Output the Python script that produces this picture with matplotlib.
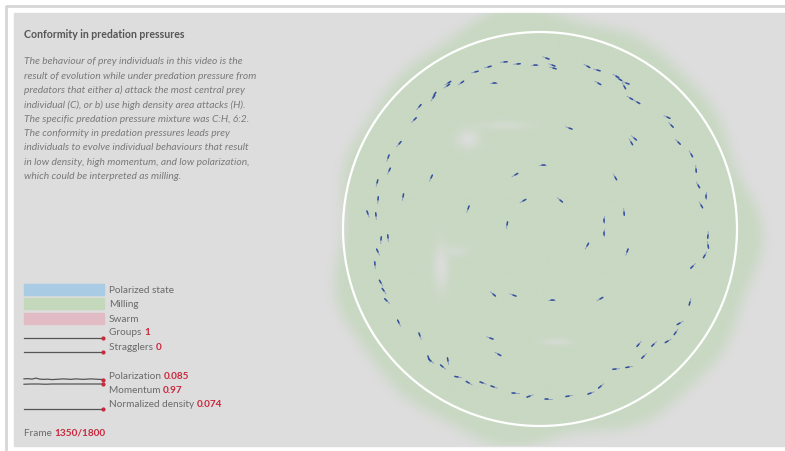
import numpy as np
import matplotlib.pyplot as plt
from matplotlib.patches import Rectangle, Circle

# prey individuals: x, y (pixels in the arena view) and heading in degrees
prey_x = [546, 552, 553, 534, 517, 504, 488, 475, 493, 461, 448, 447, 434, 433, 419, 414,
          399, 388, 389, 377, 378, 368, 376, 381, 388, 378, 375, 381, 384, 387, 399, 420,
          429, 431, 448, 443, 458, 469, 483, 494, 515, 530, 548, 569, 591, 601, 616, 629,
          644, 639, 654, 668, 676, 680, 690, 693, 705, 708, 708, 701, 706, 698, 696, 691,
          678, 671, 667, 630, 637, 626, 624, 616, 619, 598, 597, 587,
          569, 634, 631, 542, 515, 431, 403, 615, 523, 560, 468, 624, 604, 604, 507, 587,
          627, 493, 513, 551, 600, 490, 498]
prey_y = [59, 66, 69, 66, 65, 63, 68, 73, 84, 84, 84, 87, 96, 99, 108, 121,
          145, 159, 172, 184, 201, 215, 217, 241, 239, 253, 266, 284, 292, 302, 324, 337,
          360, 362, 362, 368, 378, 384, 384, 388, 394, 397, 400, 397, 394, 387, 370, 368,
          357, 345, 345, 342, 333, 324, 303, 267, 256, 236, 246, 206, 196, 186, 170, 155,
          143, 126, 118, 99, 103, 84, 87, 77, 80, 84, 71, 67,
          129, 139, 143, 166, 176, 179, 198, 178, 202, 201, 210, 213, 220, 233, 226, 247,
          253, 295, 296, 301, 300, 339, 355]
prey_angle = [-20, -20, -15, 0, 5, 5, 15, 15, 0, 35, 30, 35, 55, 55, 50, 45,
              50, 70, 65, 75, 85, 110, 95, 85, 95, 115, 95, 120, 125, 135, 115, 110,
              110, 140, 100, 140, 170, 150, 160, 160, 180, 200, 180, 190, 200, 220, 185, 190,
              225, 230, 225, 210, 235, 210, 255, 225, 240, 265, 280, 300, 270, 300, 275, 300,
              315, 315, 335, 330, 330, 340, 300, 330, 330, 330, 345, 330,
              340, 320, 300, 0, 30, 65, 80, 300, 30, 320, 70, 275, 270, 270, 80, 60,
              70, 320, 340, 0, 30, 340, 330]

legend_states = ["Polarized state", "Milling", "Swarm"]
state_colors = ["#a9cbe3", "#c4d9bc", "#e2bcc4"]

groups_series = [1] * 12
stragglers_series = [0] * 12
polarization_series = [0.11, 0.12, 0.10, 0.14, 0.10, 0.09, 0.10, 0.08, 0.09, 0.10, 0.11, 0.10,
                       0.09, 0.11, 0.10, 0.09, 0.10, 0.11, 0.10, 0.09, 0.085]
momentum_series = [0.96, 0.97, 0.97, 0.96, 0.97, 0.97, 0.97, 0.97, 0.97, 0.97, 0.97, 0.97]
density_series = [0.074] * 12

description = [
    "The behaviour of prey individuals in this video is the",
    "result of evolution while under predation pressure from",
    "predators that either a) attack the most central prey",
    "individual (C), or b) use high density area attacks (H).",
    "The specific predation pressure mixture was C:H, 6:2.",
    "The conformity in predation pressures leads prey",
    "individuals to evolve individual behaviours that result",
    "in low density, high momentum, and low polarization,",
    "which could be interpreted as milling.",
]

RED = "#c8283c"
GRAY = "#6a6a6a"
FONT = "Lato"
FS = 7.2

fig = plt.figure(figsize=(7.85, 4.52), dpi=100)
ax = fig.add_axes([0, 0, 1, 1])

# outer frame and panel
ax.plot([6, 6, 785], [452, 7, 7], color="#d6d6d6", lw=2, solid_capstyle="butt")
ax.add_patch(Rectangle((14, 14), 771, 433, color="#dddddd", zorder=0))

# soft green "milling" cloud behind the arena
gx = np.linspace(300, 785, 500)
gy = np.linspace(14, 447, 440)
X, Y = np.meshgrid(gx, gy)
th = np.arctan2(Y - 232, X - 544)
R = 216 + 5 * np.sin(3 * th + 0.5) + 4 * np.sin(7 * th + 1.3) + 3 * np.cos(11 * th)
d = np.hypot((X - 544) * 1.03, Y - 232)
alpha = np.clip((R - d) / 24 + 0.5, 0, 1)
alpha = alpha * alpha * (3 - 2 * alpha)
spots = [(468, 140, 12, 10, 0.9), (505, 126, 28, 5, 0.5), (441, 268, 8, 24, 0.9),
         (458, 252, 12, 6, 0.5), (557, 343, 16, 4, 0.6)]
for sx, sy, rx, ry, a in spots:
    alpha = alpha * (1 - a * np.exp(-(((X - sx) / rx) ** 2 + ((Y - sy) / ry) ** 2)))
img = np.zeros(X.shape + (4,))
img[..., 0] = 0xc8 / 255
img[..., 1] = 0xd8 / 255
img[..., 2] = 0xc2 / 255
img[..., 3] = alpha
ax.imshow(img, extent=(300, 785, 447, 14), origin="upper", zorder=1, interpolation="bilinear")
ax.set_xlim(0, 785)
ax.set_ylim(452, 0)
ax.set_aspect("auto")
ax.axis("off")

ax.add_patch(Circle((540, 230), 197, fill=False, ec="white", lw=1.6, zorder=2))

# prey
L = 7.0
for x, y, a in zip(prey_x, prey_y, prey_angle):
    r = np.deg2rad(a)
    dx, dy = np.cos(r) * L / 2, -np.sin(r) * L / 2
    ax.plot([x - dx, x + dx], [y - dy, y + dy], color="#8797c0", lw=0.6, zorder=3,
            solid_capstyle="round")
    ax.plot([x, x + dx * 0.9], [y, y + dy * 0.9], color="#33509c", lw=1.1, zorder=4,
            solid_capstyle="round")

# text block
ax.text(24, 34, "Conformity in predation pressures", fontsize=7.6, fontweight="bold",
        color="#555555", family=FONT, va="center")
for i, line in enumerate(description):
    ax.text(24, 62 + i * 14.3, line, fontsize=7.4, style="italic", color="#7a7a7a",
            family=FONT, va="center")

# legend patches
for i, (lab, c) in enumerate(zip(legend_states, state_colors)):
    yc = 290.5 + i * 14.3
    ax.add_patch(Rectangle((24, yc - 5.5), 80, 11, color=c, zorder=2))
    ax.text(109, yc, lab, fontsize=FS, color=GRAY, family=FONT, va="center")


def spark(series, y0, scale):
    xs = np.linspace(24, 103, len(series))
    ys = [y0 - (v - series[-1]) * scale for v in series]
    ax.plot(xs, ys, color="#555555", lw=0.9, zorder=3)
    ax.plot(xs[-1], ys[-1], "o", color=RED, ms=2, zorder=4)


spark(groups_series, 339, 5)
spark(stragglers_series, 353, 5)
spark(polarization_series, 380.5, 25)
spark(momentum_series, 385, 25)
spark(density_series, 409.5, 25)

rows = [("Groups ", "1", 333), ("Stragglers ", "0", 347.5),
        ("Polarization ", "0.085", 376.5), ("Momentum ", "0.97", 390.5),
        ("Normalized density ", "0.074", 405), ("Frame ", "1350/1800", 433.5)]
for lab, val, yc in rows:
    x0 = 24 if lab == "Frame " else 109
    t = ax.text(x0, yc, lab, fontsize=FS, color=GRAY, family=FONT, va="center")
    ax.annotate(val, xycoords=t, xy=(1, 0.5), va="center", fontsize=FS,
                fontweight="bold", color=RED, family=FONT)

fig.savefig("out.png", dpi=100)
